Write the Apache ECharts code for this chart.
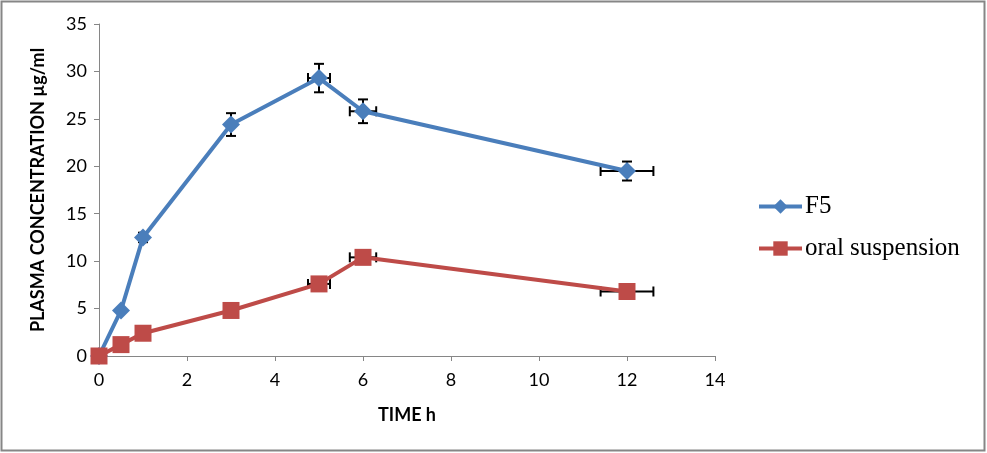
<!DOCTYPE html>
<html><head><meta charset="utf-8">
<script src="https://cdn.jsdelivr.net/npm/echarts@6/dist/echarts.min.js"></script>
<style>html,body{margin:0;padding:0;background:#fff}#c{width:987px;height:453px}</style>
</head><body><div id="c"></div>
<script>
const time = [0, 0.5, 1, 3, 5, 6, 12];
const f5 = [0, 4.8, 12.5, 24.4, 29.3, 25.8, 19.5];
const f5ErrY = [0, 0, 0.5, 1.2, 1.5, 1.25, 1.0];
const f5ErrX = [0, 0, 0, 0, 0.25, 0.3, 0.6];
const oral = [0, 1.2, 2.4, 4.8, 7.6, 10.4, 6.8];
const oralErrY = [0, 0, 0, 0, 0.3, 0.3, 0.3];
const oralErrX = [0, 0, 0, 0, 0.25, 0.3, 0.6];
const xTicks = [0, 2, 4, 6, 8, 10, 12, 14];
const yTicks = [0, 5, 10, 15, 20, 25, 30, 35];

function pairs(ys){ return time.map((t,i)=>[t, ys[i]]); }
function errData(ys, ey, ex){ return time.map((t,i)=>[t, ys[i], ey[i], ex[i]]); }

function renderErr(params, api){
  const x = api.value(0), y = api.value(1), ey = api.value(2), ex = api.value(3);
  const children = [];
  const st = {stroke:'#000', lineWidth:2};
  const cap = 5;
  if (ey > 0){
    const top = api.coord([x, y+ey]), bot = api.coord([x, y-ey]);
    children.push({type:'line', shape:{x1:top[0],y1:top[1],x2:bot[0],y2:bot[1]}, style:st});
    children.push({type:'line', shape:{x1:top[0]-cap,y1:top[1],x2:top[0]+cap,y2:top[1]}, style:st});
    children.push({type:'line', shape:{x1:bot[0]-cap,y1:bot[1],x2:bot[0]+cap,y2:bot[1]}, style:st});
  }
  if (ex > 0){
    const l = api.coord([x-ex, y]), r = api.coord([x+ex, y]);
    children.push({type:'line', shape:{x1:l[0],y1:l[1],x2:r[0],y2:r[1]}, style:st});
    children.push({type:'line', shape:{x1:l[0],y1:l[1]-cap,x2:l[0],y2:l[1]+cap}, style:st});
    children.push({type:'line', shape:{x1:r[0],y1:r[1]-cap,x2:r[0],y2:r[1]+cap}, style:st});
  }
  return {type:'group', children};
}

const chart = echarts.init(document.getElementById('c'));
chart.setOption({
  animation:false,
  backgroundColor:'#fff',
  graphic:[{type:'rect', shape:{x:1.5,y:1.5,width:983,height:449}, style:{fill:'none', stroke:'#868686', lineWidth:2}, silent:true}],
  grid:{left:99, right:272, top:24, bottom:97},
  legend:{
    orient:'vertical', left:757, top:194, padding:0, itemGap:17, itemWidth:43, itemHeight:18,
    lineStyle:{width:4},
    textStyle:{fontFamily:'Liberation Serif', fontSize:25, lineHeight:25, color:'#000', padding:[0,0,0,-2]},
    data:['F5','oral suspension']
  },
  xAxis:{
    type:'value', min:0, max:14, interval:2,
    name:'TIME h', nameLocation:'middle', nameGap:50,
    nameTextStyle:{fontFamily:'Lato', fontWeight:'bold', fontSize:18, color:'#000'},
    axisLine:{show:true, lineStyle:{color:'#868686', width:1}},
    axisTick:{show:true, length:5, lineStyle:{color:'#868686'}},
    splitLine:{show:false},
    axisLabel:{fontFamily:'Lato', fontSize:18, color:'#000', margin:15}
  },
  yAxis:{
    type:'value', min:0, max:35, interval:5,
    name:'PLASMA CONCENTRATION µg/ml', nameLocation:'middle', nameGap:52,
    nameTextStyle:{fontFamily:'Lato', fontWeight:'bold', fontSize:18, color:'#000'},
    axisLine:{show:true, lineStyle:{color:'#868686', width:1}},
    axisTick:{show:true, length:5, lineStyle:{color:'#868686'}},
    splitLine:{show:false},
    axisLabel:{fontFamily:'Lato', fontSize:18, color:'#000', margin:12}
  },
  series:[
    {name:'F5', type:'line', data:pairs(f5), symbol:'diamond', symbolSize:18,
     lineStyle:{color:'#4a7ebb', width:4}, itemStyle:{color:'#4a7ebb'}, z:3},
    {name:'oral suspension', type:'line', data:pairs(oral), symbol:'rect', symbolSize:17,
     lineStyle:{color:'#be4b48', width:4}, itemStyle:{color:'#be4b48'}, z:3},
    {type:'custom', renderItem:renderErr, data:errData(f5, f5ErrY, f5ErrX), z:2, silent:true},
    {type:'custom', renderItem:renderErr, data:errData(oral, oralErrY, oralErrX), z:2, silent:true}
  ]
});
</script></body></html>
